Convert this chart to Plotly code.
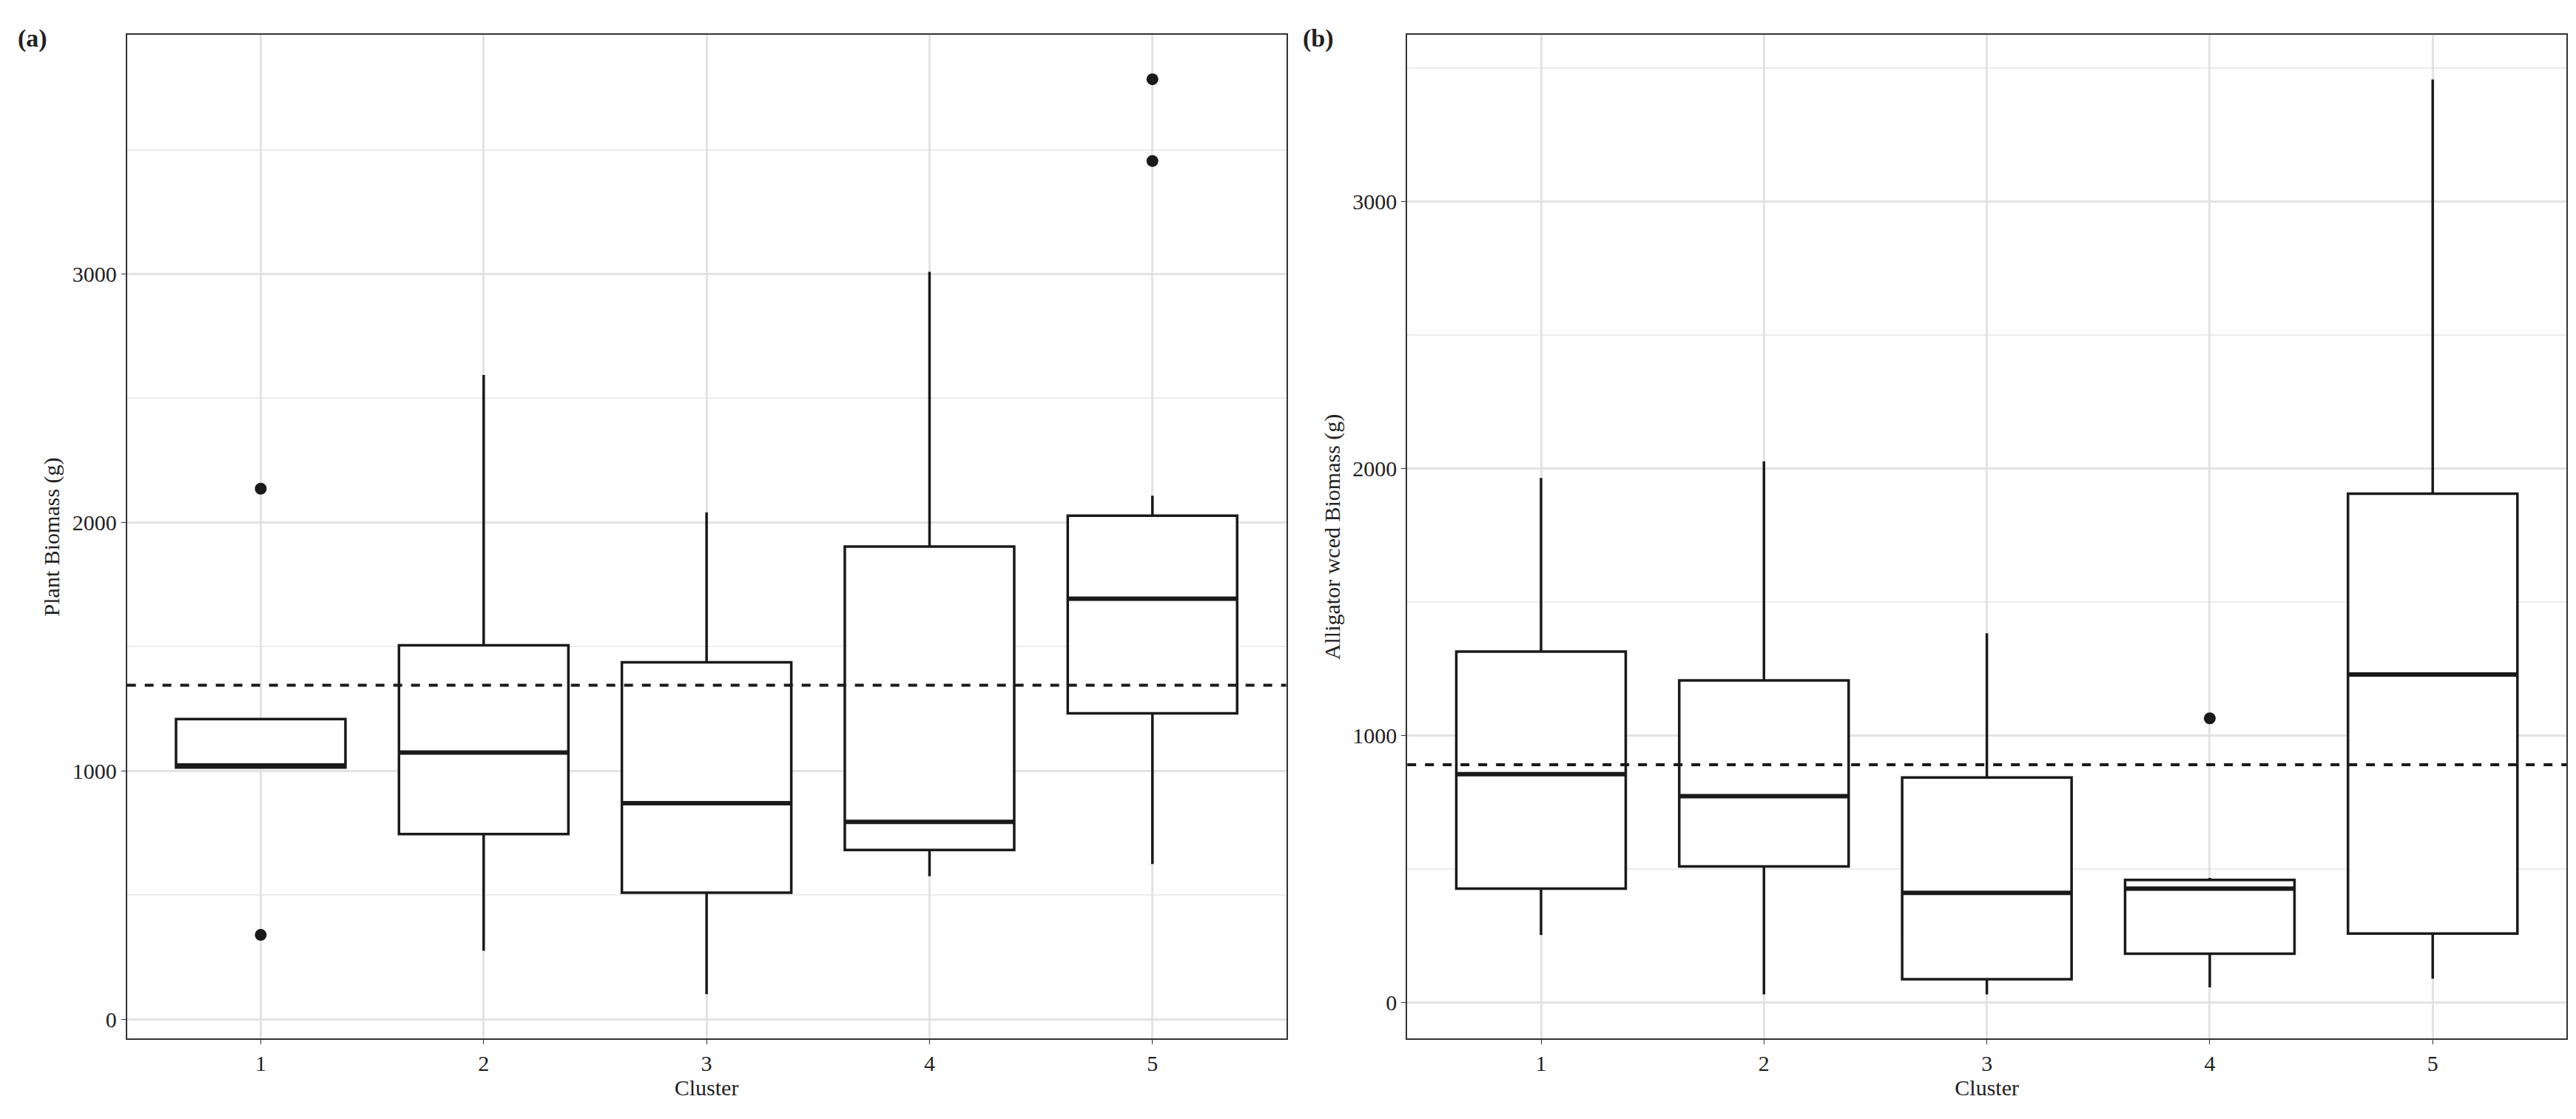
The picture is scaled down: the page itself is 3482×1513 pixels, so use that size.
import plotly.graph_objects as go
from plotly.subplots import make_subplots

clusters = [1, 2, 3, 4, 5]
# Panel a: Plant Biomass (g)
a_q1 = [1014, 746, 510, 682, 1232]
a_med = [1022, 1074, 870, 795, 1693]
a_q3 = [1209, 1506, 1437, 1903, 2027]
a_low = [1014, 276, 101, 576, 625]
a_high = [1209, 2594, 2041, 3009, 2108]
a_out_x = [1, 1, 5, 5]
a_out_y = [2136, 340, 3784, 3455]
a_mean = 1345
# Panel b: Alligator weed Biomass (g)
b_q1 = [426, 509, 86, 182, 257]
b_med = [855, 772, 410, 426, 1228]
b_q3 = [1314, 1206, 842, 458, 1906]
b_low = [252, 29, 29, 56, 88]
b_high = [1965, 2027, 1383, 466, 3458]
b_out_x = [4]
b_out_y = [1064]
b_mean = 890

W = 0.76
fig = make_subplots(rows=1, cols=2)
panels = [
    (1, a_q1, a_med, a_q3, a_low, a_high, a_out_x, a_out_y, a_mean, [-78, 3962], "Plant Biomass (g)"),
    (2, b_q1, b_med, b_q3, b_low, b_high, b_out_x, b_out_y, b_mean, [-137, 3625], "Alligator wced Biomass (g)"),
]
for col, q1, med, q3, lo, hi, ox, oy, mean, yr, ytitle in panels:
    fig.add_trace(go.Box(x=clusters, q1=q1, median=med, q3=q3, lowerfence=lo, upperfence=hi,
                         width=W, whiskerwidth=0, fillcolor="white",
                         line=dict(color="#1a1a1a", width=3.5), boxpoints=False,
                         showlegend=False), row=1, col=col)
    for c, m in zip(clusters, med):
        fig.add_trace(go.Scatter(x=[c - W / 2, c + W / 2], y=[m, m], mode="lines",
                                 line=dict(color="#1a1a1a", width=6), showlegend=False,
                                 hoverinfo="skip"), row=1, col=col)
    fig.add_trace(go.Scatter(x=ox, y=oy, mode="markers", marker=dict(color="#1a1a1a", size=16),
                             showlegend=False), row=1, col=col)
    fig.add_hline(y=mean, line=dict(color="#1a1a1a", width=4, dash="dash"), row=1, col=col)
    fig.update_yaxes(range=yr, tickvals=[0, 1000, 2000, 3000], showgrid=True,
                     gridcolor="#e3e3e3", gridwidth=3,
                     minor=dict(dtick=500, tick0=0, showgrid=True, gridcolor="#ececec", gridwidth=2),
                     zeroline=False, showline=True, mirror=True, linecolor="#333", linewidth=2,
                     ticks="outside", ticklen=6, tickcolor="#333",
                     title=dict(text=ytitle, font=dict(size=30), standoff=8), row=1, col=col)
    fig.update_xaxes(range=[0.4, 5.6], tickvals=clusters, showgrid=True, gridcolor="#e3e3e3",
                     gridwidth=3, zeroline=False, showline=True, mirror=True, linecolor="#333",
                     linewidth=2, ticks="outside", ticklen=6, tickcolor="#333",
                     title=dict(text="Cluster", font=dict(size=30), standoff=4), row=1, col=col)

fig.update_layout(
    width=3482, height=1513, plot_bgcolor="white", paper_bgcolor="white",
    margin=dict(l=0, r=0, t=0, b=0),
    font=dict(family="Liberation Serif", size=30, color="#222"),
    xaxis=dict(domain=[0.047, 0.497]), xaxis2=dict(domain=[0.544, 0.994]),
    yaxis=dict(domain=[0.077, 0.974]), yaxis2=dict(domain=[0.077, 0.974]),
    annotations=[
        dict(text="<b>(a)</b>", x=0.004, y=0.985, xref="paper", yref="paper", showarrow=False,
             xanchor="left", yanchor="top", font=dict(size=34)),
        dict(text="<b>(b)</b>", x=0.503, y=0.985, xref="paper", yref="paper", showarrow=False,
             xanchor="left", yanchor="top", font=dict(size=34)),
    ],
)
fig.write_html("out.html")
